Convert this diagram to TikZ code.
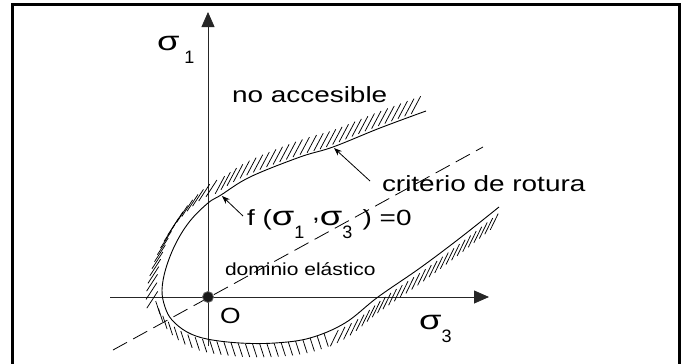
\documentclass[tikz,border=0pt]{standalone}
\usepackage{graphicx}
\usepackage{fontspec}
\setmainfont{Liberation Sans}
\usetikzlibrary{arrows.meta,decorations.markings}
\newcommand\mysig{\scalebox{1.35}[1]{\fontsize{27}{27}\selectfont σ}}
\newcommand\mysub[1]{\raisebox{-13pt}{\fontsize{18}{18}\selectfont #1}}
\newcommand\mywide[1]{\scalebox{1.27}[1]{#1}}
% hatch stroke at a fixed absolute angle, offset to the right of the path
\newcommand\myhatch[3]{% offset, half length, angle
  \pgftransformshift{\pgfpoint{0pt}{-#1}}%
  \pgftransformresetnontranslations
  \pgfsetlinewidth{0.75pt}%
  \pgfpathmoveto{\pgfpointpolar{#3+180}{#2}}%
  \pgfpathlineto{\pgfpointpolar{#3}{#2}}%
  \pgfusepath{stroke}}
\tikzset{
  lbl/.style={inner sep=0pt, outer sep=0pt, font=\fontsize{22}{22}\selectfont},
  axis/.style={line width=0.8pt, black!85, -{Triangle[length=15pt,width=13pt]}},
  pointer/.style={line width=0.8pt, -{Stealth[length=8pt,width=6pt]}},
  hatched/.style={line width=0.9pt, postaction={decorate}, decoration={markings,
    mark=between positions 0.01 and 0.3 step 7pt with {\myhatch{9pt}{10pt}{62}},
    mark=between positions 0.305 and 0.47 step 7pt with {\myhatch{10.5pt}{10pt}{57}},
    mark=between positions 0.475 and 0.715 step 7pt with {\myhatch{7pt}{7pt}{108}},
    mark=between positions 0.72 and 0.99 step 7pt with {\myhatch{8.5pt}{9pt}{64}}}},
  frameline/.style={line width=3pt, black}
}
\begin{document}
\begin{tikzpicture}[x=1pt,y=-1pt]
\useasboundingbox (0,0) rectangle (688,364);
\clip (0,0) rectangle (688,364);
\fill[white] (0,0) rectangle (688,364);
% frame
\draw[frameline] (12.5,372) -- (12.5,4.5) -- (679,4.5) -- (679,372);
% dashed line
\coordinate (dA) at (113,350);
\coordinate (dB) at (483,147);
\draw[line width=0.8pt, dash pattern=on 16pt off 7pt] (dA) -- (dB);
% axes
\coordinate (hx0) at (110,297);
\coordinate (hx1) at (489,297);
\coordinate (vy0) at (208,346);
\coordinate (vy1) at (208,12);
\draw[axis] (hx0) -- (hx1);
\draw[axis] (vy0) -- (vy1);
% failure curve
\draw[hatched] plot[smooth, tension=0.6] coordinates {
 (426,111) (380,128) (333,147) (300,157) (250,177) (221,195) (208,203)
 (190,221) (176,243) (166,268) (162,290) (165,307) (172,320) (187,332)
 (207,339) (240,343) (275,343) (310,338) (345,323) (378,297) (420,268)
 (460,238) (499,207)};
% origin
\node[circle, fill=black!90, draw=black!60, line width=0.8pt, minimum size=11pt, inner sep=0pt] (orig) at (208,297) {};
\node[lbl] (O) at (230.5,316) {\scalebox{1.2}[1]{O}};
% labels
\node[lbl, anchor=base west] (s1) at (157,50) {\mysig\hspace{5pt}\mysub{1}};
\node[lbl, anchor=base west] (s3) at (419,329) {\mysig\mysub{3}};
\node[lbl, anchor=base west] (noacc) at (232,102) {\mywide{no accesible}};
\node[lbl, anchor=base west] (crit) at (382,191) {\mywide{criterio de rotura}};
\node[lbl, anchor=base west, font=\fontsize{17.5}{17.5}\selectfont] (dom) at (225,275) {\scalebox{1.2}[1]{dominio elástico}};
\node[lbl, anchor=base west] (flab) at (247,225) {\mywide{f (}\mysig\mysub{1}\mywide{ \raisebox{5pt}{,}}\mysig\mysub{3}\mywide{\hspace{2pt} ) =0}};
% pointers
\coordinate (critTail) at (370,181);
\coordinate (critTip) at (334,148);
\coordinate (fTail) at (243,216);
\coordinate (fTip) at (222,196);
\draw[pointer] (critTail) -- (critTip);
\draw[pointer] (fTail) -- (fTip);
\end{tikzpicture}
\end{document}
